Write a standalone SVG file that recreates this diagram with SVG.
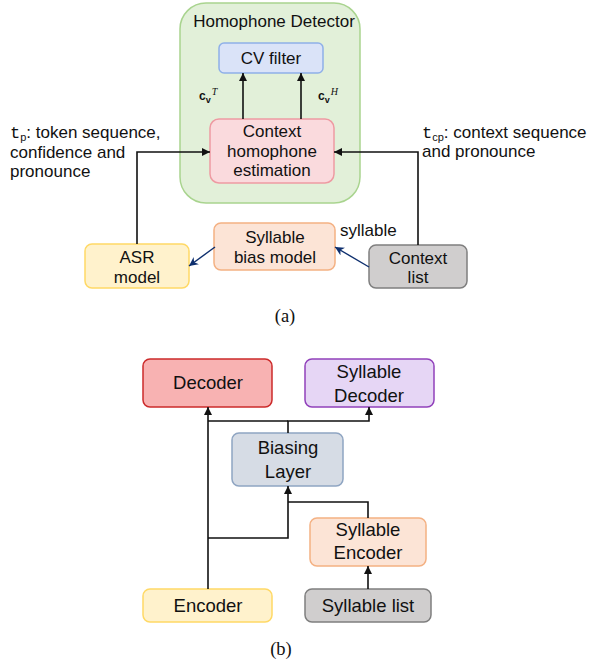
<svg xmlns="http://www.w3.org/2000/svg" width="591" height="663" viewBox="0 0 591 663">
<style>
  .t { font-family: "Liberation Sans", Arial, sans-serif; font-size: 17px; fill: #111; }
  .tb { font-family: "Liberation Sans", Arial, sans-serif; font-size: 18.5px; fill: #111; }
  .cap { font-family: "Liberation Serif", "Times New Roman", serif; font-size: 18.5px; fill: #111; }
  .mono { font-family: "Liberation Mono", "DejaVu Sans Mono", monospace; }
  .cv { font-family: "Liberation Sans", Arial, sans-serif; font-size: 12px; font-weight: bold; fill: #111; }
  .sup { font-family: "Liberation Serif", "Times New Roman", serif; font-size: 10px; font-style: italic; font-weight: normal; }
  .ln { fill: none; stroke: #111; stroke-width: 1.6; }
  .nv { fill: none; stroke: #0e2f6e; stroke-width: 1.4; }
</style>
<defs>
  <marker id="ah" viewBox="0 0 10 10" refX="10" refY="5" markerWidth="8" markerHeight="8" markerUnits="userSpaceOnUse" orient="auto">
    <path d="M0,0 L10,5 L0,10 z" fill="#111"/>
  </marker>
  <marker id="ahn" viewBox="0 0 10 10" refX="10" refY="5" markerWidth="9" markerHeight="9" markerUnits="userSpaceOnUse" orient="auto">
    <path d="M0,0 L10,5 L0,10 L3,5 z" fill="#0e2f6e"/>
  </marker>
</defs>

<!-- (a) -->
<g id="homophone-detector">
  <rect x="180" y="3" width="180" height="200" rx="26" fill="#e2f0d9" stroke="#a9d48f" stroke-width="1.5"/>
  <text class="t" x="274" y="27" text-anchor="middle">Homophone Detector</text>
</g>
<g id="cv-filter">
  <rect x="219" y="43" width="104" height="30" rx="5" fill="#dae3f8" stroke="#8fb0e8" stroke-width="1.5"/>
  <text class="t" x="271" y="64" text-anchor="middle">CV filter</text>
</g>
<g id="context-homophone">
  <rect x="210" y="119" width="124" height="64" rx="9" fill="#fadadd" stroke="#ee9aa2" stroke-width="1.5"/>
  <text class="t" x="272" y="137" text-anchor="middle">Context</text>
  <text class="t" x="272" y="157" text-anchor="middle">homophone</text>
  <text class="t" x="272" y="176" text-anchor="middle">estimation</text>
</g>
<g id="asr-model">
  <rect x="85" y="244" width="104" height="44" rx="7" fill="#fff2cc" stroke="#ffd966" stroke-width="1.5"/>
  <text class="t" x="137" y="263" text-anchor="middle">ASR</text>
  <text class="t" x="137" y="283" text-anchor="middle">model</text>
</g>
<g id="syllable-bias">
  <rect x="214" y="223" width="121" height="47" rx="7" fill="#fce4d6" stroke="#f4b183" stroke-width="1.5"/>
  <text class="t" x="275" y="243" text-anchor="middle">Syllable</text>
  <text class="t" x="275" y="263" text-anchor="middle">bias model</text>
</g>
<g id="context-list">
  <rect x="369" y="245" width="98" height="43" rx="7" fill="#d0cece" stroke="#7f7f7f" stroke-width="1.5"/>
  <text class="t" x="418" y="264" text-anchor="middle">Context</text>
  <text class="t" x="418" y="283" text-anchor="middle">list</text>
</g>

<g id="labels-a">
  <text class="t" x="10" y="138"><tspan class="mono">t</tspan><tspan font-size="11" dy="3">p</tspan><tspan dy="-3">: token sequence,</tspan></text>
  <text class="t" x="10" y="158">confidence and</text>
  <text class="t" x="10" y="177">pronounce</text>
  <text class="t" x="422" y="138"><tspan class="mono">t</tspan><tspan font-size="11" dy="3">cp</tspan><tspan dy="-3">: context sequence</tspan></text>
  <text class="t" x="422" y="157">and pronounce</text>
  <text class="t" x="340" y="236">syllable</text>
  <text class="cv" x="199" y="100">c<tspan font-size="9" dy="3">v</tspan><tspan class="sup" dx="1" dy="-8">T</tspan></text>
  <text class="cv" x="318" y="100">c<tspan font-size="9" dy="3">v</tspan><tspan class="sup" dx="1" dy="-8">H</tspan></text>
  <text class="cap" x="285" y="322" text-anchor="middle">(a)</text>
</g>

<!-- (b) -->
<g id="decoder">
  <rect x="143" y="359" width="129" height="48" rx="7" fill="#f8b2b2" stroke="#cc2b2b" stroke-width="1.5"/>
  <text class="tb" x="208" y="389" text-anchor="middle">Decoder</text>
</g>
<g id="syllable-decoder">
  <rect x="305" y="359" width="129" height="48" rx="7" fill="#e6d6f5" stroke="#9141bb" stroke-width="1.5"/>
  <text class="tb" x="369" y="378" text-anchor="middle">Syllable</text>
  <text class="tb" x="369" y="402" text-anchor="middle">Decoder</text>
</g>
<g id="biasing-layer">
  <rect x="232" y="433" width="111" height="53" rx="7" fill="#d6dce5" stroke="#8fa5c2" stroke-width="1.5"/>
  <text class="tb" x="288" y="454" text-anchor="middle">Biasing</text>
  <text class="tb" x="288" y="478" text-anchor="middle">Layer</text>
</g>
<g id="syllable-encoder">
  <rect x="310" y="518" width="116" height="48" rx="7" fill="#fce4d6" stroke="#f4b183" stroke-width="1.5"/>
  <text class="tb" x="368" y="536" text-anchor="middle">Syllable</text>
  <text class="tb" x="368" y="559" text-anchor="middle">Encoder</text>
</g>
<g id="encoder">
  <rect x="143" y="589" width="129" height="33" rx="7" fill="#fff2cc" stroke="#ffd966" stroke-width="1.5"/>
  <text class="tb" x="208" y="612" text-anchor="middle">Encoder</text>
</g>
<g id="syllable-list">
  <rect x="305" y="589" width="126" height="33" rx="7" fill="#d0cece" stroke="#7f7f7f" stroke-width="1.5"/>
  <text class="tb" x="368" y="612" text-anchor="middle">Syllable list</text>
</g>
<text class="cap" x="281" y="655" text-anchor="middle">(b)</text>

<g id="connectors">
  <path class="ln" d="M137,244 V152 H210" marker-end="url(#ah)"/>
  <path class="ln" d="M418,245 V152 H334" marker-end="url(#ah)"/>
  <path class="ln" d="M243,119 V73" marker-end="url(#ah)"/>
  <path class="ln" d="M301,119 V73" marker-end="url(#ah)"/>
  <path class="nv" d="M215,247 L189,266" marker-end="url(#ahn)"/>
  <path class="nv" d="M369,267 L335,247" marker-end="url(#ahn)"/>

  <path class="ln" d="M208,589 V407" marker-end="url(#ah)"/>
  <path class="ln" d="M208,538 H288 V486" marker-end="url(#ah)"/>
  <path class="ln" d="M368,518 V502 H288"/>
  <path class="ln" d="M288,433 V421 H369 V407" marker-end="url(#ah)"/>
  <path class="ln" d="M208,421 H288"/>
  <path class="ln" d="M368,589 V566" marker-end="url(#ah)"/>
</g>
</svg>
